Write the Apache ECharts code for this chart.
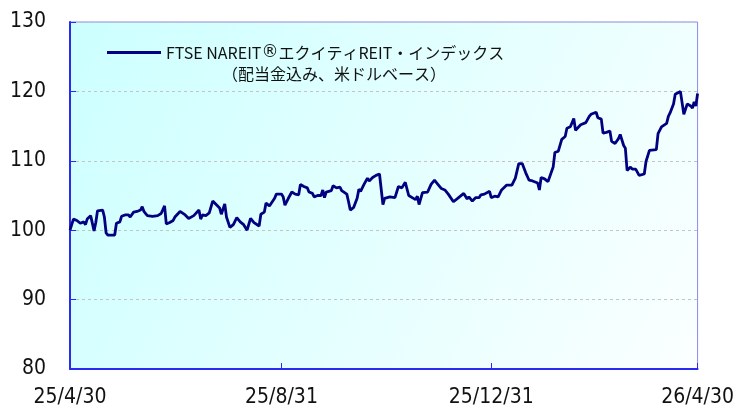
<!DOCTYPE html>
<html>
<head>
<meta charset="utf-8">
<script src="https://cdn.jsdelivr.net/npm/echarts@6/dist/echarts.min.js"></script>
<style>
  html, body { margin: 0; padding: 0; background: #fff; }
  #chart { width: 737px; height: 408px; }
</style>
</head>
<body>
<div id="chart"></div>
<script>
const seriesName = 'FTSE NAREIT®エクイティREIT・インデックス'
const noteText = '（配当金込み、米ドルベース）'

const dates = [
  '2025-04-30', '2025-05-02', '2025-05-04', '2025-05-06', '2025-05-08', '2025-05-09', '2025-05-10', '2025-05-12',
  '2025-05-14', '2025-05-15', '2025-05-16', '2025-05-19', '2025-05-20', '2025-05-21', '2025-05-22', '2025-05-26',
  '2025-05-27', '2025-05-29', '2025-05-30', '2025-06-01', '2025-06-03', '2025-06-04', '2025-06-05', '2025-06-06',
  '2025-06-08', '2025-06-10', '2025-06-11', '2025-06-12', '2025-06-13', '2025-06-14', '2025-06-17', '2025-06-18',
  '2025-06-20', '2025-06-22', '2025-06-24', '2025-06-25', '2025-06-27', '2025-06-29', '2025-06-30', '2025-07-03',
  '2025-07-06', '2025-07-08', '2025-07-09', '2025-07-11', '2025-07-14', '2025-07-15', '2025-07-16', '2025-07-18',
  '2025-07-20', '2025-07-22', '2025-07-24', '2025-07-26', '2025-07-27', '2025-07-29', '2025-07-30', '2025-08-01',
  '2025-08-03', '2025-08-05', '2025-08-07', '2025-08-09', '2025-08-11', '2025-08-13', '2025-08-15', '2025-08-16',
  '2025-08-18', '2025-08-19', '2025-08-21', '2025-08-22', '2025-08-24', '2025-08-27', '2025-08-28', '2025-08-31',
  '2025-09-01', '2025-09-02', '2025-09-04', '2025-09-06', '2025-09-08', '2025-09-10', '2025-09-11', '2025-09-13',
  '2025-09-15', '2025-09-16', '2025-09-18', '2025-09-19', '2025-09-21', '2025-09-23', '2025-09-24', '2025-09-25',
  '2025-09-26', '2025-09-29', '2025-09-30', '2025-10-02', '2025-10-04', '2025-10-05', '2025-10-08', '2025-10-09',
  '2025-10-10', '2025-10-12', '2025-10-14', '2025-10-15', '2025-10-16', '2025-10-18', '2025-10-20', '2025-10-21',
  '2025-10-23', '2025-10-25', '2025-10-27', '2025-10-28', '2025-10-29', '2025-10-30', '2025-11-02', '2025-11-05',
  '2025-11-07', '2025-11-09', '2025-11-10', '2025-11-11', '2025-11-13', '2025-11-15', '2025-11-17', '2025-11-18',
  '2025-11-19', '2025-11-21', '2025-11-24', '2025-11-26', '2025-11-28', '2025-11-29', '2025-12-02', '2025-12-04',
  '2025-12-06', '2025-12-09', '2025-12-12', '2025-12-15', '2025-12-17', '2025-12-18', '2025-12-20', '2025-12-22',
  '2025-12-24', '2025-12-25', '2025-12-27', '2025-12-30', '2025-12-31', '2026-01-02', '2026-01-04', '2026-01-06',
  '2026-01-07', '2026-01-09', '2026-01-12', '2026-01-14', '2026-01-16', '2026-01-18', '2026-01-20', '2026-01-22',
  '2026-01-24', '2026-01-25', '2026-01-27', '2026-01-28', '2026-01-29', '2026-01-31', '2026-02-02', '2026-02-03',
  '2026-02-05', '2026-02-06', '2026-02-08', '2026-02-10', '2026-02-12', '2026-02-13', '2026-02-15', '2026-02-17',
  '2026-02-18', '2026-02-19', '2026-02-21', '2026-02-24', '2026-02-26', '2026-02-27', '2026-03-02', '2026-03-03',
  '2026-03-05', '2026-03-06', '2026-03-08', '2026-03-10', '2026-03-11', '2026-03-13', '2026-03-15', '2026-03-16',
  '2026-03-18', '2026-03-19', '2026-03-20', '2026-03-22', '2026-03-23', '2026-03-25', '2026-03-27', '2026-03-28',
  '2026-03-30', '2026-03-31', '2026-04-02', '2026-04-06', '2026-04-07', '2026-04-09', '2026-04-12', '2026-04-13',
  '2026-04-14', '2026-04-16', '2026-04-17', '2026-04-20', '2026-04-22', '2026-04-24', '2026-04-26', '2026-04-27',
  '2026-04-28', '2026-04-29', '2026-04-30'
]

const values = [
  100.0, 101.6, 101.4, 101.0, 101.2, 100.8, 101.6, 102.1,
  99.9, 101.1, 102.8, 102.9, 101.9, 99.6, 99.3, 99.3,
  101.0, 101.2, 102.0, 102.2, 102.2, 101.9, 102.0, 102.6,
  102.7, 102.9, 103.4, 102.7, 102.4, 102.1, 102.0, 102.2,
  102.1, 102.4, 103.5, 100.9, 101.1, 101.4, 101.9, 102.7,
  102.2, 101.7, 101.5, 102.1, 102.9, 101.6, 102.2, 102.1,
  102.5, 104.2, 103.7, 103.2, 102.3, 103.8, 101.9, 100.4,
  100.8, 101.8, 101.2, 100.8, 100.0, 101.7, 101.1, 101.2,
  100.6, 102.3, 102.6, 103.9, 103.5, 104.6, 105.2, 105.2,
  104.8, 103.6, 104.6, 105.5, 105.2, 105.1, 106.6, 106.3,
  106.1, 105.5, 105.3, 104.8, 105.0, 105.0, 105.8, 104.7,
  105.5, 105.7, 106.4, 106.1, 106.2, 105.7, 105.2, 104.1,
  102.9, 103.3, 104.6, 105.9, 105.6, 106.6, 107.5, 107.1,
  107.6, 107.9, 108.1, 108.0, 103.7, 104.6, 104.8, 104.7,
  106.3, 106.1, 105.9, 106.9, 105.0, 104.7, 104.4, 104.9,
  103.7, 105.4, 105.5, 106.6, 107.2, 106.9, 106.0, 105.8,
  105.2, 104.1, 104.7, 105.3, 104.5, 104.8, 104.2, 104.7,
  104.7, 105.1, 105.2, 105.6, 104.7, 104.9, 104.8, 105.8,
  105.7, 106.5, 106.5, 107.5, 109.6, 109.6, 108.3, 107.2,
  107.1, 106.9, 106.8, 105.8, 107.6, 107.4, 107.0, 107.7,
  109.1, 111.2, 111.4, 113.1, 113.5, 114.7, 114.9, 116.1,
  114.4, 114.3, 115.2, 115.5, 116.4, 116.7, 117.0, 116.2,
  116.0, 114.0, 114.1, 114.3, 112.8, 112.5, 113.2, 113.8,
  112.2, 111.8, 108.6, 109.1, 108.8, 108.8, 107.9, 107.8,
  108.1, 109.9, 111.5, 111.6, 113.9, 114.9, 115.4, 116.4,
  116.9, 118.2, 119.6, 120.0, 116.7, 118.2, 117.9, 117.6,
  118.5, 117.9, 119.7
]

const xTickDates = ['2025-04-30', '2025-08-31', '2025-12-31', '2026-04-30']

const chart = echarts.init(document.getElementById('chart'), null, { renderer: 'canvas' })

// 日付文字列 -> タイムスタンプ
const toTime = (s) => {
  const p = s.split('-')
  return new Date(+p[0], +p[1] - 1, +p[2]).getTime()
}

const xTicks = xTickDates.map(toTime)
const labelFont = 'DejaVu Sans Condensed'
const legendFont = 'Noto Sans CJK JP'

const option = {
  animation: false,
  backgroundColor: '#ffffff',
  grid: {
    left: 70,
    right: 39,
    top: 22,
    bottom: 39,
    show: true,
    borderColor: '#8888f0',
    borderWidth: 1,
    backgroundColor: {
      type: 'linear', x: 0, y: 0, x2: 1, y2: 1,
      colorStops: [
        { offset: 0, color: '#ccffff' },
        { offset: 1, color: '#fbffff' }
      ]
    }
  },
  legend: {
    left: 107,
    top: 44,
    padding: 0,
    itemWidth: 54,
    itemHeight: 14,
    data: [{ name: seriesName, icon: 'path://M0,5.5H54V8.5H0Z' }],
    // ® だけ別フォントで全角サイズに
    formatter: (name) => {
      const parts = name.split('®')
      return '{a|' + parts[0] + '}{r|®}{a|' + parts[1] + '}'
    },
    textStyle: {
      fontFamily: legendFont,
      fontSize: 16,
      color: '#111',
      rich: {
        a: { fontFamily: legendFont, fontSize: 16, color: '#111' },
        r: { fontFamily: 'DejaVu Sans', fontSize: 17, color: '#111' }
      }
    }
  },
  graphic: [{
    type: 'text',
    left: 222,
    top: 66,
    style: {
      text: noteText,
      fontFamily: legendFont,
      fontSize: 16,
      fill: '#111'
    }
  }],
  xAxis: {
    type: 'value',
    min: xTicks[0],
    max: xTicks[xTicks.length - 1],
    axisLine: { lineStyle: { color: '#2a2af0', width: 2 } },
    axisTick: {
      inside: true,
      length: 6,
      customValues: xTicks,
      lineStyle: { color: '#2a2af0', width: 1 }
    },
    axisLabel: {
      customValues: xTicks,
      margin: 18,
      fontFamily: labelFont,
      fontSize: 21,
      color: '#111',
      formatter: (val) => {
        const d = new Date(val)
        return String(d.getFullYear()).slice(2) + '/' + (d.getMonth() + 1) + '/' + d.getDate()
      }
    },
    splitLine: { show: false }
  },
  yAxis: {
    type: 'value',
    min: 80,
    max: 130,
    interval: 10,
    axisLine: { show: true, lineStyle: { color: '#2a2af0', width: 2 } },
    axisTick: {
      show: true,
      inside: true,
      length: 6,
      lineStyle: { color: '#2a2af0', width: 1 }
    },
    axisLabel: {
      margin: 24,
      fontFamily: labelFont,
      fontSize: 21,
      color: '#111'
    },
    splitLine: {
      show: true,
      lineStyle: { color: '#c4c4c4', type: [3, 3], width: 1 }
    }
  },
  series: [
    {
      name: seriesName,
      type: 'line',
      data: dates.map((d, i) => [toTime(d), values[i]]),
      showSymbol: false,
      symbol: 'none',
      lineStyle: { color: '#000080', width: 2.8 },
      itemStyle: { color: '#000080' }
    }
  ]
}

chart.setOption(option)
</script>
</body>
</html>
